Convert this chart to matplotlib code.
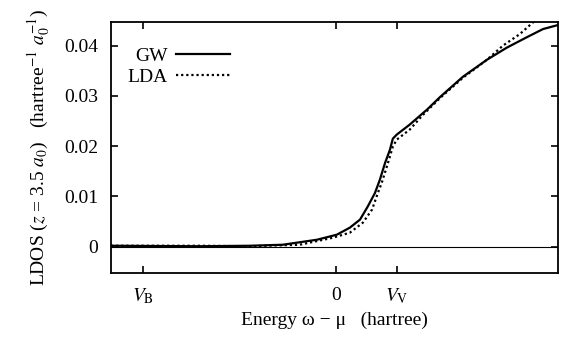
import matplotlib
matplotlib.use("Agg")
import matplotlib.pyplot as plt

plt.rcParams["font.family"] = ["Liberation Serif", "DejaVu Serif"]
plt.rcParams["mathtext.fontset"] = "stix"
plt.rcParams["font.size"] = 14

# Energy relative to the chemical potential (hartree) and local DOS
energy_gw = [-0.466, -0.282, -0.178, -0.110, -0.039, 0.002, 0.029, 0.050, 0.066,
             0.081, 0.091, 0.102, 0.112, 0.118, 0.126, 0.153, 0.189, 0.216, 0.263,
             0.313, 0.354, 0.396, 0.429, 0.460]
ldos_gw = [0.0002, 0.0001, 0.0002, 0.0004, 0.0014, 0.0024, 0.0038, 0.0054, 0.0080,
           0.0107, 0.0133, 0.0167, 0.0193, 0.0215, 0.0223, 0.0243, 0.0273, 0.0298, 0.0338,
           0.0372, 0.0396, 0.0417, 0.0433, 0.0441]

energy_lda = [-0.466, -0.282, -0.178, -0.075, -0.006, 0.029, 0.056, 0.075, 0.087,
              0.095, 0.108, 0.118, 0.126, 0.153, 0.180, 0.216, 0.263, 0.313, 0.346,
              0.381, 0.408, 0.433]
ldos_lda = [0.0002, 0.0002, 0.0001, 0.0004, 0.0018, 0.0028, 0.0048, 0.0074, 0.0107,
            0.0127, 0.0167, 0.0199, 0.0213, 0.0233, 0.0262, 0.0296, 0.0336, 0.0372, 0.0400,
            0.0423, 0.0446, 0.0465]

x_ticks = [-0.40, 0.0, 0.126]
x_ticklabels = [r"$V_{\mathrm{B}}$", "0", r"$V_{\mathrm{V}}$"]
y_ticks = [0.0, 0.01, 0.02, 0.03, 0.04]
y_ticklabels = ["0", "0.01", "0.02", "0.03", "0.04"]

fig = plt.figure(figsize=(5.63, 3.39), dpi=100)
ax = fig.add_axes([0.197, 0.195, 0.794, 0.740])

ax.axhline(0.0, color="black", lw=0.8)
ax.plot(energy_gw, ldos_gw, color="black", lw=1.6, label="GW")
ax.plot(energy_lda, ldos_lda, color="black", lw=1.6, linestyle=(0, (1, 1.3)), label="LDA")

ax.set_xlim(-0.466, 0.460)
ax.set_ylim(-0.0052, 0.0447)
ax.set_xticks(x_ticks)
ax.set_xticklabels(x_ticklabels)
ax.set_yticks(y_ticks)
ax.set_yticklabels(y_ticklabels)
ax.tick_params(direction="in", length=5, width=1.2, top=True, right=True)
ax.tick_params(axis="x", pad=10)
ax.tick_params(axis="y", pad=9)
for s in ax.spines.values():
    s.set_linewidth(1.3)

ax.set_xlabel("Energy ω − μ   (hartree)", labelpad=4)
ax.set_ylabel(r"LDOS ($z$ = 3.5 $a_0$)   (hartree$^{-1}$ $a_0^{-1}$)", labelpad=8)

ax.legend(loc="upper left", bbox_to_anchor=(0.02, 0.93), frameon=False,
          markerfirst=False, handlelength=2.8, handletextpad=0.4,
          labelspacing=0.15, borderaxespad=0.0)

fig.savefig("out.png", dpi=100)
